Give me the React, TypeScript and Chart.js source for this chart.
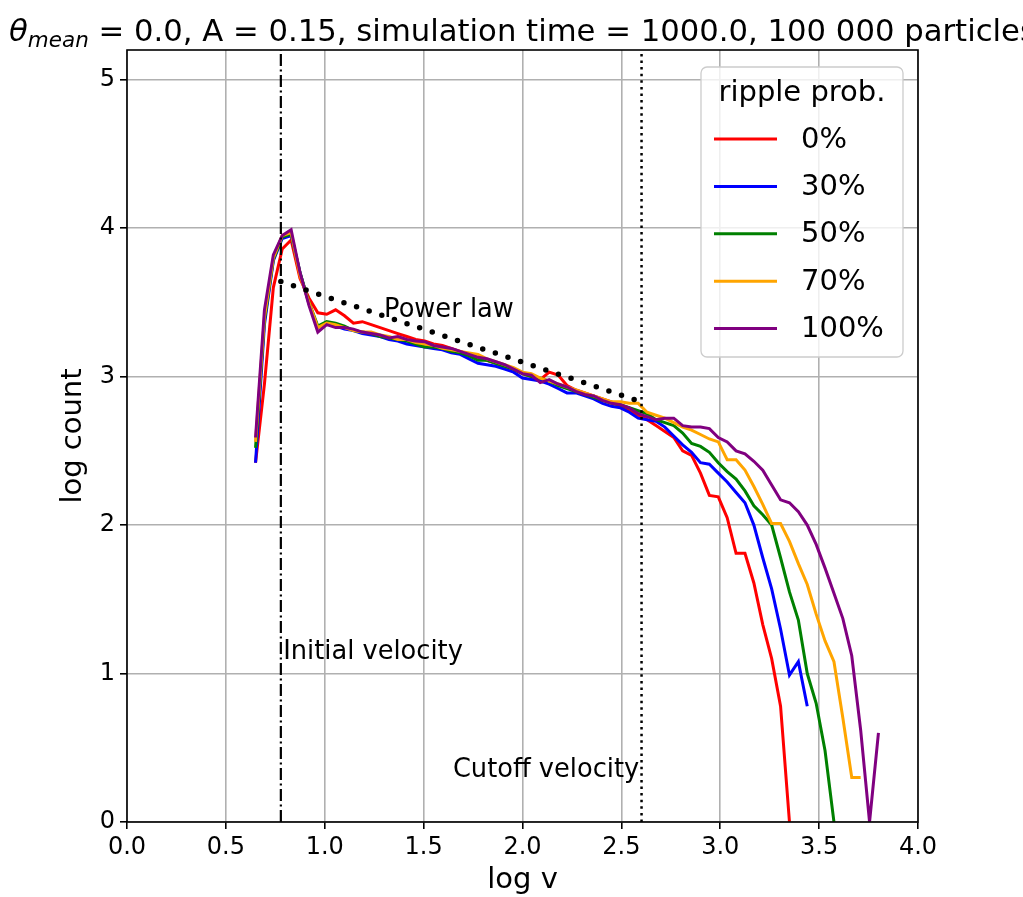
import React, { useEffect, useRef } from 'react';
import { Chart, registerables } from 'chart.js';

Chart.register(...registerables);

// log v bin centres shared by every series
const logV = [
  0.650, 0.695, 0.740, 0.785, 0.830, 0.875, 0.920, 0.965, 1.010, 1.055,
  1.100, 1.145, 1.190, 1.235, 1.280, 1.325, 1.370, 1.415, 1.460, 1.505,
  1.550, 1.595, 1.640, 1.685, 1.730, 1.775, 1.820, 1.865, 1.910, 1.955,
  2.000, 2.045, 2.090, 2.135, 2.180, 2.225, 2.270, 2.315, 2.360, 2.405,
  2.450, 2.495, 2.540, 2.585, 2.630, 2.675, 2.720, 2.765, 2.810, 2.855,
  2.900, 2.945, 2.990, 3.035, 3.080, 3.125, 3.170, 3.215, 3.260, 3.305,
  3.350, 3.395, 3.440, 3.485, 3.530, 3.575, 3.620, 3.665, 3.710, 3.755,
  3.800,
];

// log count, ripple probability 0%
const ripple0 = [
  2.42, 2.95, 3.60, 3.86, 3.92, 3.66, 3.53, 3.43,
  3.42, 3.45, 3.41, 3.36, 3.37, 3.35, 3.33, 3.31, 3.29, 3.27,
  3.25, 3.24, 3.22, 3.21, 3.19, 3.17, 3.15, 3.13, 3.11, 3.09,
  3.07, 3.05, 3.02, 3.00, 2.98, 3.03, 3.01, 2.94, 2.91, 2.89,
  2.87, 2.85, 2.83, 2.80,
  2.77, 2.74, 2.71, 2.67, 2.63, 2.59, 2.50, 2.47, 2.35, 2.20,
  2.19, 2.05, 1.81, 1.81, 1.61, 1.33, 1.10, 0.78, 0.00,
];

// ripple probability 30%
const ripple30 = [
  2.42, 3.35, 3.78, 3.93, 3.95, 3.70, 3.49, 3.33,
  3.36, 3.34, 3.32, 3.31, 3.29, 3.28, 3.27, 3.25, 3.24, 3.22,
  3.21, 3.20, 3.19, 3.18, 3.16, 3.15, 3.12, 3.09, 3.08, 3.07,
  3.05, 3.03, 2.99, 2.98, 2.97, 2.95, 2.92, 2.89, 2.89, 2.87,
  2.85, 2.82, 2.80, 2.79,
  2.76, 2.72, 2.71, 2.70, 2.66, 2.60, 2.54, 2.49, 2.42, 2.41,
  2.35, 2.29, 2.22, 2.15, 2.00, 1.78, 1.57, 1.30, 0.99, 1.08,
  0.78,
];

// ripple probability 50%
const ripple50 = [
  2.52, 3.38, 3.79, 3.94, 3.96, 3.70, 3.50, 3.34,
  3.37, 3.36, 3.34, 3.31, 3.30, 3.29, 3.27, 3.26, 3.25, 3.24,
  3.22, 3.20, 3.20, 3.19, 3.17, 3.16, 3.14, 3.11, 3.11, 3.09,
  3.07, 3.05, 3.02, 3.00, 2.99, 2.97, 2.94, 2.92, 2.90, 2.88,
  2.86, 2.84, 2.82, 2.81,
  2.79, 2.77, 2.75, 2.71, 2.69, 2.67, 2.62, 2.55, 2.53, 2.49,
  2.42, 2.36, 2.31, 2.23, 2.13, 2.07, 2.00, 1.78, 1.55, 1.36,
  1.00, 0.80, 0.48, 0.00,
];

// ripple probability 70%
const ripple70 = [
  2.56, 3.40, 3.80, 3.95, 3.97, 3.68, 3.50, 3.33,
  3.36, 3.35, 3.33, 3.31, 3.30, 3.30, 3.28, 3.27, 3.25, 3.25,
  3.23, 3.22, 3.21, 3.19, 3.18, 3.17, 3.16, 3.15, 3.12, 3.10,
  3.08, 3.06, 3.03, 3.02, 2.99, 2.97, 2.95, 2.93, 2.91, 2.89,
  2.87, 2.85, 2.83, 2.83,
  2.82, 2.82, 2.76, 2.74, 2.72, 2.69, 2.66, 2.64, 2.61, 2.58,
  2.56, 2.44, 2.44, 2.37, 2.26, 2.14, 2.01, 2.01, 1.89, 1.74,
  1.60, 1.40, 1.22, 1.08, 0.70, 0.30, 0.30,
];

// ripple probability 100%
const ripple100 = [
  2.59, 3.45, 3.82, 3.95, 3.99, 3.70, 3.48, 3.30,
  3.35, 3.33, 3.33, 3.32, 3.30, 3.29, 3.28, 3.26, 3.27, 3.25,
  3.24, 3.235, 3.21, 3.20, 3.19, 3.17, 3.15, 3.13, 3.12, 3.10,
  3.08, 3.05, 3.02, 3.01, 2.96, 2.98, 2.95, 2.93, 2.90, 2.88,
  2.87, 2.84, 2.82, 2.81,
  2.79, 2.75, 2.73, 2.71, 2.72, 2.72, 2.67, 2.66, 2.66, 2.65,
  2.59, 2.56, 2.50, 2.48, 2.43, 2.37, 2.27, 2.17, 2.15, 2.09,
  2.00, 1.87, 1.71, 1.54, 1.37, 1.12, 0.62, 0.00, 0.60,
];

const seriesLabels = ['0%', '30%', '50%', '70%', '100%'];
const seriesColors = ['#ff0000', '#0000ff', '#008000', '#ffa500', '#800080'];

const powerLawX = [0.778, 2.602];
const powerLawY = [3.64, 2.83];
const initialVelocity = 0.778;
const cutoffVelocity = 2.602;

const xTicks = [0, 0.5, 1, 1.5, 2, 2.5, 3, 3.5, 4];
const yTicks = [0, 1, 2, 3, 4, 5];

const titleMain = ' = 0.0, A = 0.15, simulation time = 1000.0, 100 000 particles';
const legendTitle = 'ripple prob.';
const xLabel = 'log v';
const yLabel = 'log count';

const FONT = "'DejaVu Sans', 'Liberation Sans', sans-serif";

function toPoints(ys: number[]) {
  return ys.map((y, i) => ({ x: logV[i], y }));
}

const decorPlugin = {
  id: 'decor',
  afterDatasetsDraw(chart: any) {
    const { ctx, chartArea: a, scales } = chart;
    const x = scales.x;
    const y = scales.y;
    ctx.save();
    ctx.fillStyle = '#000';
    ctx.font = `25.7px ${FONT}`;
    ctx.textBaseline = 'alphabetic';
    ctx.textAlign = 'left';
    ctx.fillText('Power law', x.getPixelForValue(1.3), y.getPixelForValue(3.4));
    ctx.fillText('Initial velocity', x.getPixelForValue(0.79), y.getPixelForValue(1.1));
    ctx.textAlign = 'right';
    ctx.fillText('Cutoff velocity', x.getPixelForValue(2.59), y.getPixelForValue(0.3));
    // frame
    ctx.strokeStyle = '#000';
    ctx.lineWidth = 1.6;
    ctx.strokeRect(a.left, a.top, a.right - a.left, a.bottom - a.top);
    ctx.restore();
  },
  afterDraw(chart: any) {
    const { ctx, chartArea: a } = chart;
    ctx.save();
    ctx.fillStyle = '#000';
    ctx.textBaseline = 'alphabetic';
    ctx.textAlign = 'left';
    // title
    const cx = (a.left + a.right) / 2;
    const ts = 30.7;
    ctx.font = `italic ${ts}px ${FONT}`;
    const wT = ctx.measureText('θ').width;
    ctx.font = `italic ${ts * 0.7}px ${FONT}`;
    const wS = ctx.measureText('mean').width;
    ctx.font = `${ts}px ${FONT}`;
    const wR = ctx.measureText(titleMain).width;
    const x0 = cx - (wT + wS + wR) / 2;
    const base = 41;
    ctx.font = `italic ${ts}px ${FONT}`;
    ctx.fillText('θ', x0, base);
    ctx.font = `italic ${ts * 0.7}px ${FONT}`;
    ctx.fillText('mean', x0 + wT, base + 6);
    ctx.font = `${ts}px ${FONT}`;
    ctx.fillText(titleMain, x0 + wT + wS, base);

    // axis labels
    ctx.font = `29px ${FONT}`;
    ctx.textAlign = 'center';
    ctx.fillText(xLabel, cx, 888);
    ctx.save();
    ctx.translate(81, (a.top + a.bottom) / 2);
    ctx.rotate(-Math.PI / 2);
    ctx.fillText(yLabel, 0, 0);
    ctx.restore();

    // legend
    const bx = a.right - 217;
    const by = a.top + 17;
    const bw = 202;
    const bh = 290;
    ctx.beginPath();
    (ctx as any).roundRect(bx, by, bw, bh, 6);
    ctx.fillStyle = 'rgba(255,255,255,0.8)';
    ctx.fill();
    ctx.strokeStyle = '#cccccc';
    ctx.lineWidth = 1.3;
    ctx.stroke();
    ctx.fillStyle = '#000';
    ctx.font = `29px ${FONT}`;
    ctx.textAlign = 'center';
    ctx.fillText(legendTitle, bx + bw / 2, by + 34);
    ctx.textAlign = 'left';
    ctx.textBaseline = 'middle';
    seriesLabels.forEach((lab, k) => {
      const ly = by + 72 + k * 47.4;
      ctx.strokeStyle = seriesColors[k];
      ctx.lineWidth = 3;
      ctx.beginPath();
      ctx.moveTo(bx + 13, ly);
      ctx.lineTo(bx + 76, ly);
      ctx.stroke();
      ctx.fillStyle = '#000';
      ctx.fillText(lab, bx + 100, ly + 1);
    });
    ctx.restore();
  },
};

export default function App() {
  const ref = useRef<HTMLCanvasElement | null>(null);
  useEffect(() => {
    if (!ref.current) return;
    const series = [ripple0, ripple30, ripple50, ripple70, ripple100];
    const datasets: any[] = series.map((ys, k) => ({
      label: seriesLabels[k],
      data: toPoints(ys),
      borderColor: seriesColors[k],
      backgroundColor: seriesColors[k],
      borderWidth: 3,
      pointRadius: 0,
      tension: 0,
      fill: false,
      order: 5 - k,
    }));
    datasets.push({
      label: 'power law',
      data: powerLawX.map((v, i) => ({ x: v, y: powerLawY[i] })),
      borderColor: '#000',
      borderWidth: 5.5,
      borderDash: [0, 13.3],
      borderCapStyle: 'round',
      pointRadius: 0,
      fill: false,
      order: 0,
    });
    datasets.push({
      label: 'initial',
      data: [{ x: initialVelocity, y: 0 }, { x: initialVelocity, y: 5.2 }],
      borderColor: '#000',
      borderWidth: 2.2,
      borderDash: [12, 3.5, 2, 3.5],
      pointRadius: 0,
      fill: false,
      order: 0,
    });
    datasets.push({
      label: 'cutoff',
      data: [{ x: cutoffVelocity, y: 0 }, { x: cutoffVelocity, y: 5.2 }],
      borderColor: '#000',
      borderWidth: 2.5,
      borderDash: [2.5, 4.1],
      pointRadius: 0,
      fill: false,
      order: 0,
    });

    const chart = new Chart(ref.current, {
      type: 'line',
      data: { datasets },
      options: {
        responsive: false,
        animation: false,
        devicePixelRatio: 1,
        layout: { padding: { top: 50, right: 105, left: 0, bottom: 0 } },
        plugins: {
          legend: { display: false },
          tooltip: { enabled: false },
          title: { display: false },
        },
        scales: {
          x: {
            type: 'linear',
            min: 0,
            max: 4,
            afterBuildTicks: (axis: any) => {
              axis.ticks = xTicks.map((v) => ({ value: v }));
            },
            afterFit: (axis: any) => {
              axis.height = 75;
            },
            ticks: {
              color: '#000',
              font: { family: FONT, size: 24 },
              padding: 4,
              maxRotation: 0,
              callback: (v: any) => Number(v).toFixed(1),
            },
            grid: {
              color: '#b0b0b0',
              lineWidth: 1.6,
              drawTicks: true,
              tickLength: 7,
              tickColor: '#000',
              tickWidth: 1.6,
            },
            border: { display: false },
          },
          y: {
            type: 'linear',
            min: 0,
            max: 5.2,
            afterBuildTicks: (axis: any) => {
              axis.ticks = yTicks.map((v) => ({ value: v }));
            },
            afterFit: (axis: any) => {
              axis.width = 127;
            },
            ticks: {
              color: '#000',
              font: { family: FONT, size: 24 },
              padding: 5,
              callback: (v: any) => String(v),
            },
            grid: {
              color: '#b0b0b0',
              lineWidth: 1.6,
              drawTicks: true,
              tickLength: 7,
              tickColor: '#000',
              tickWidth: 1.6,
            },
            border: { display: false },
          },
        },
      } as any,
      plugins: [decorPlugin],
    });
    return () => chart.destroy();
  }, []);

  return (
    <div style={{ position: 'absolute', left: 0, top: 0, width: 1023, height: 897, background: '#fff' }}>
      <canvas ref={ref} width={1023} height={897} style={{ display: 'block' }} />
    </div>
  );
}
